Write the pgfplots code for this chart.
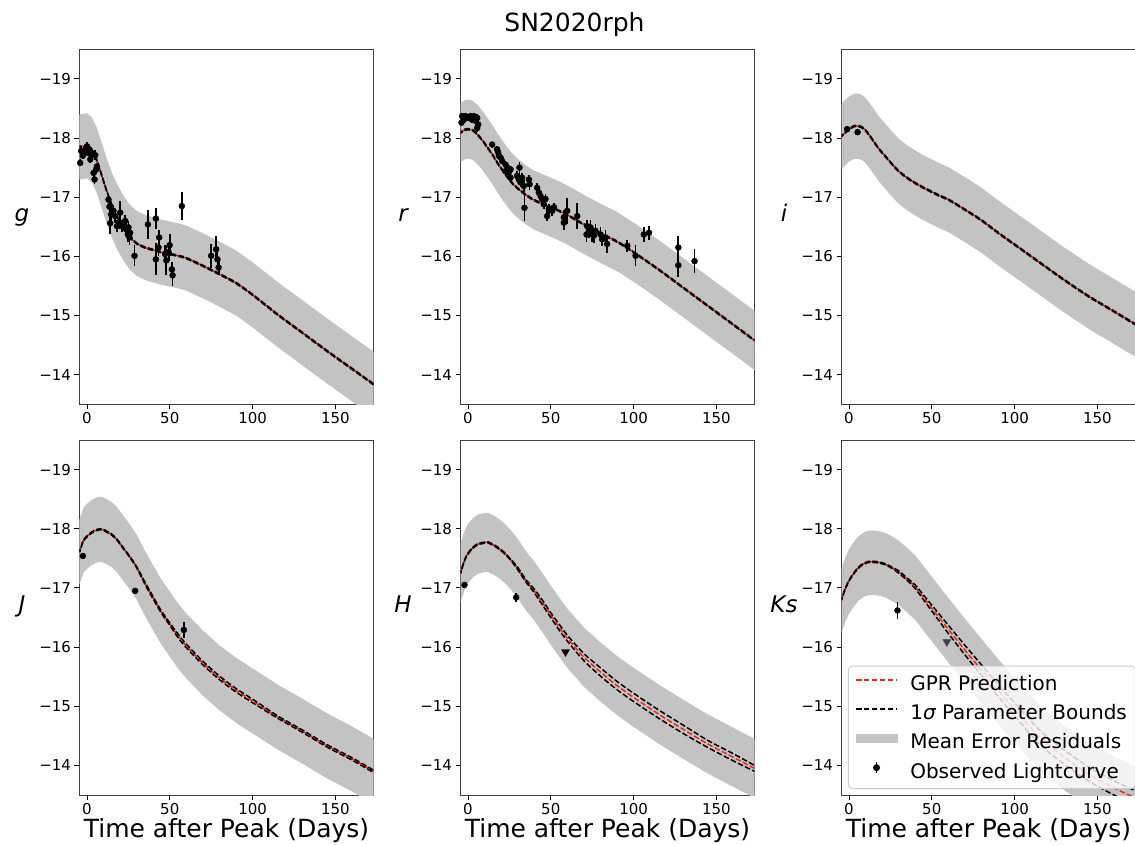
\documentclass[border=0pt]{standalone}
\usepackage{fontspec}
\setmainfont{DejaVu Sans}
\usepackage{pgfplots}
\pgfplotsset{compat=1.18}
\usepackage{pgfplotstable}

\definecolor{bandgray}{RGB}{195,195,195}
\definecolor{gprred}{RGB}{245,40,20}

% columns: x  m (GPR)  lo hi (1 sigma bounds)  t (band edge, bright side)  w (band width)
\pgfplotstableread{
x m lo hi t w
-4.5 -17.85 -17.86 -17.84 -18.40 1.10
-2 -17.86 -17.87 -17.85 -18.41 1.10
0 -17.87 -17.88 -17.86 -18.42 1.10
3 -17.80 -17.81 -17.79 -18.35 1.10
6 -17.62 -17.63 -17.61 -18.17 1.10
9 -17.36 -17.37 -17.35 -17.91 1.10
12 -17.10 -17.11 -17.09 -17.65 1.10
15 -16.87 -16.88 -16.86 -17.42 1.10
18 -16.68 -16.69 -16.67 -17.23 1.10
22 -16.48 -16.49 -16.47 -17.03 1.10
26 -16.32 -16.33 -16.31 -16.87 1.10
30 -16.22 -16.23 -16.21 -16.77 1.10
35 -16.15 -16.16 -16.14 -16.70 1.10
40 -16.11 -16.12 -16.10 -16.66 1.10
45 -16.07 -16.08 -16.06 -16.62 1.10
50 -16.04 -16.05 -16.03 -16.59 1.10
55 -16.01 -16.02 -16.00 -16.56 1.10
60 -15.97 -15.98 -15.96 -16.52 1.10
70 -15.84 -15.85 -15.83 -16.39 1.10
80 -15.70 -15.71 -15.69 -16.25 1.10
90 -15.55 -15.56 -15.54 -16.10 1.10
100 -15.35 -15.36 -15.34 -15.90 1.10
115 -15.02 -15.03 -15.01 -15.57 1.10
130 -14.71 -14.72 -14.70 -15.26 1.10
145 -14.40 -14.41 -14.39 -14.95 1.10
160 -14.10 -14.11 -14.09 -14.65 1.10
173 -13.84 -13.85 -13.83 -14.39 1.10
}\gtab
\pgfplotstableread{
x m lo hi t w
-4.5 -18.09 -18.10 -18.08 -18.59 1.00
-2 -18.14 -18.15 -18.13 -18.64 1.00
0 -18.15 -18.16 -18.14 -18.65 1.00
3 -18.13 -18.14 -18.12 -18.63 1.00
6 -18.05 -18.06 -18.04 -18.55 1.00
9 -17.95 -17.96 -17.94 -18.45 1.00
12 -17.83 -17.84 -17.82 -18.33 1.00
15 -17.71 -17.72 -17.70 -18.21 1.00
18 -17.57 -17.58 -17.56 -18.07 1.00
22 -17.41 -17.42 -17.40 -17.91 1.00
26 -17.26 -17.27 -17.25 -17.76 1.00
30 -17.15 -17.16 -17.14 -17.65 1.00
35 -17.04 -17.05 -17.03 -17.54 1.00
40 -16.95 -16.96 -16.94 -17.45 1.00
45 -16.89 -16.90 -16.88 -17.39 1.00
50 -16.83 -16.84 -16.82 -17.33 1.00
55 -16.77 -16.78 -16.76 -17.27 1.00
60 -16.70 -16.71 -16.69 -17.20 1.00
70 -16.54 -16.55 -16.53 -17.04 1.00
80 -16.39 -16.40 -16.38 -16.89 1.00
90 -16.25 -16.26 -16.24 -16.75 1.00
100 -16.07 -16.08 -16.06 -16.57 1.00
115 -15.78 -15.79 -15.77 -16.28 1.00
130 -15.47 -15.48 -15.46 -15.97 1.00
145 -15.16 -15.17 -15.15 -15.66 1.00
160 -14.85 -14.86 -14.84 -15.35 1.00
173 -14.58 -14.59 -14.57 -15.08 1.00
}\rtab
\pgfplotstableread{
x m lo hi t w
-4.5 -18.03 -18.04 -18.02 -18.58 1.10
-2 -18.10 -18.11 -18.09 -18.65 1.10
0 -18.15 -18.16 -18.14 -18.70 1.10
3 -18.20 -18.21 -18.19 -18.75 1.10
6 -18.20 -18.21 -18.19 -18.75 1.10
9 -18.16 -18.17 -18.15 -18.71 1.10
12 -18.06 -18.07 -18.05 -18.61 1.10
15 -17.94 -17.95 -17.93 -18.49 1.10
18 -17.82 -17.83 -17.81 -18.37 1.10
22 -17.69 -17.70 -17.68 -18.24 1.10
26 -17.56 -17.57 -17.55 -18.11 1.10
30 -17.44 -17.45 -17.43 -17.99 1.10
35 -17.33 -17.34 -17.32 -17.88 1.10
40 -17.24 -17.25 -17.23 -17.79 1.10
45 -17.16 -17.17 -17.15 -17.71 1.10
50 -17.09 -17.10 -17.08 -17.64 1.10
55 -17.02 -17.03 -17.01 -17.57 1.10
60 -16.96 -16.97 -16.95 -17.51 1.10
70 -16.79 -16.80 -16.78 -17.34 1.10
80 -16.61 -16.62 -16.60 -17.16 1.10
90 -16.40 -16.41 -16.39 -16.95 1.10
100 -16.20 -16.21 -16.19 -16.75 1.10
115 -15.90 -15.91 -15.89 -16.45 1.10
130 -15.60 -15.61 -15.59 -16.15 1.10
145 -15.32 -15.33 -15.31 -15.87 1.10
160 -15.07 -15.08 -15.06 -15.62 1.10
173 -14.85 -14.86 -14.84 -15.40 1.10
}\itab
\pgfplotstableread{
x m lo hi t w
-4.5 -17.61 -17.62 -17.60 -18.16 1.10
-2 -17.81 -17.82 -17.80 -18.36 1.10
0 -17.87 -17.88 -17.86 -18.42 1.10
3 -17.94 -17.95 -17.93 -18.49 1.10
6 -17.98 -17.99 -17.97 -18.53 1.10
9 -17.99 -18.00 -17.98 -18.54 1.10
12 -17.95 -17.96 -17.94 -18.50 1.10
15 -17.90 -17.91 -17.89 -18.45 1.10
18 -17.82 -17.83 -17.81 -18.37 1.10
22 -17.67 -17.68 -17.66 -18.22 1.10
26 -17.52 -17.53 -17.51 -18.07 1.10
30 -17.35 -17.36 -17.34 -17.90 1.10
35 -17.08 -17.10 -17.06 -17.63 1.10
40 -16.83 -16.85 -16.81 -17.38 1.10
45 -16.59 -16.61 -16.57 -17.14 1.10
50 -16.39 -16.41 -16.37 -16.94 1.10
55 -16.19 -16.22 -16.16 -16.74 1.10
60 -16.02 -16.05 -15.99 -16.57 1.10
70 -15.73 -15.76 -15.70 -16.28 1.10
80 -15.48 -15.51 -15.45 -16.03 1.10
90 -15.27 -15.30 -15.24 -15.82 1.10
100 -15.09 -15.12 -15.06 -15.64 1.10
115 -14.82 -14.84 -14.80 -15.37 1.10
130 -14.58 -14.60 -14.56 -15.13 1.10
145 -14.33 -14.35 -14.31 -14.88 1.10
160 -14.11 -14.13 -14.09 -14.66 1.10
173 -13.90 -13.92 -13.88 -14.45 1.10
}\jtab
\pgfplotstableread{
x m lo hi t w
-4.5 -17.25 -17.26 -17.24 -17.75 1.00
-2 -17.47 -17.48 -17.46 -17.97 1.00
0 -17.58 -17.59 -17.57 -18.08 1.00
3 -17.68 -17.69 -17.67 -18.18 1.00
6 -17.74 -17.75 -17.73 -18.24 1.00
9 -17.76 -17.77 -17.75 -18.26 1.00
12 -17.77 -17.78 -17.76 -18.27 1.00
15 -17.73 -17.74 -17.72 -18.23 1.00
18 -17.68 -17.69 -17.67 -18.18 1.00
22 -17.59 -17.60 -17.58 -18.09 1.00
26 -17.47 -17.48 -17.46 -17.97 1.00
30 -17.33 -17.35 -17.31 -17.83 1.00
35 -17.12 -17.14 -17.10 -17.62 1.00
40 -16.95 -16.98 -16.92 -17.45 1.00
45 -16.75 -16.79 -16.71 -17.25 1.00
50 -16.54 -16.58 -16.50 -17.04 1.00
55 -16.34 -16.39 -16.29 -16.84 1.00
60 -16.15 -16.20 -16.10 -16.65 1.00
70 -15.83 -15.89 -15.77 -16.33 1.00
80 -15.58 -15.65 -15.51 -16.08 1.00
90 -15.35 -15.42 -15.28 -15.85 1.00
100 -15.15 -15.22 -15.08 -15.65 1.00
115 -14.87 -14.94 -14.80 -15.37 1.00
130 -14.61 -14.68 -14.54 -15.11 1.00
145 -14.36 -14.42 -14.30 -14.86 1.00
160 -14.14 -14.20 -14.08 -14.64 1.00
173 -13.95 -14.00 -13.90 -14.45 1.00
}\htab
\pgfplotstableread{
x m lo hi t w
-4.5 -16.80 -16.81 -16.79 -17.33 1.09
-2 -17.00 -17.01 -16.99 -17.53 1.09
0 -17.12 -17.13 -17.11 -17.65 1.09
3 -17.25 -17.26 -17.24 -17.78 1.09
6 -17.35 -17.36 -17.34 -17.88 1.09
9 -17.41 -17.42 -17.40 -17.94 1.09
12 -17.44 -17.45 -17.43 -17.97 1.09
15 -17.44 -17.45 -17.43 -17.97 1.09
18 -17.43 -17.44 -17.42 -17.96 1.09
22 -17.40 -17.41 -17.39 -17.93 1.09
26 -17.34 -17.35 -17.33 -17.87 1.09
30 -17.27 -17.29 -17.25 -17.80 1.09
35 -17.15 -17.17 -17.13 -17.68 1.09
40 -17.02 -17.05 -16.99 -17.55 1.09
45 -16.84 -16.88 -16.80 -17.37 1.09
50 -16.66 -16.71 -16.61 -17.19 1.09
55 -16.48 -16.54 -16.42 -17.01 1.09
60 -16.30 -16.37 -16.23 -16.83 1.09
70 -15.95 -16.03 -15.87 -16.48 1.09
80 -15.61 -15.70 -15.52 -16.14 1.09
90 -15.27 -15.37 -15.17 -15.80 1.09
100 -14.95 -15.06 -14.84 -15.48 1.09
115 -14.48 -14.60 -14.36 -15.01 1.09
130 -14.14 -14.26 -14.02 -14.67 1.09
145 -13.85 -13.97 -13.73 -14.38 1.09
160 -13.62 -13.74 -13.50 -14.15 1.09
173 -13.45 -13.57 -13.33 -13.98 1.09
}\kstab

% observations: x y e
\pgfplotstableread{
x y e
-4.1 -17.58 0.06
-3.5 -17.78 0.06
-2.5 -17.70 0.05
-1.5 -17.78 0.06
-0.5 -17.83 0.07
0.0 -17.86 0.08
0.5 -17.75 0.06
1.4 -17.81 0.06
2.0 -17.64 0.06
2.5 -17.72 0.05
4.0 -17.41 0.07
4.6 -17.30 0.07
5.0 -17.71 0.08
5.6 -17.47 0.08
6.0 -17.52 0.06
13.0 -16.96 0.08
13.6 -16.84 0.10
14.0 -16.56 0.18
14.6 -16.71 0.15
16.0 -16.77 0.10
17.1 -16.68 0.12
18.1 -16.51 0.10
19.7 -16.57 0.10
20.1 -16.74 0.20
21.1 -16.51 0.10
23.1 -16.60 0.10
23.7 -16.46 0.12
24.7 -16.37 0.12
25.1 -16.49 0.10
25.7 -16.32 0.12
26.1 -16.40 0.10
28.7 -16.01 0.18
36.8 -16.54 0.24
41.6 -16.64 0.17
41.6 -15.95 0.27
43.2 -16.15 0.15
43.6 -16.32 0.12
47.2 -16.04 0.15
47.9 -15.93 0.25
49.3 -16.07 0.15
49.9 -16.19 0.18
51.3 -15.78 0.12
51.7 -15.68 0.18
57.3 -16.85 0.23
75.0 -16.01 0.20
78.0 -16.12 0.22
78.8 -15.95 0.12
79.5 -15.81 0.12
}\gobs
\pgfplotstableread{
x y e
-3.9 -18.26 0.05
-3.5 -18.37 0.05
-2.5 -18.31 0.05
-1.5 -18.37 0.05
0.1 -18.34 0.05
1.5 -18.37 0.05
2.5 -18.31 0.05
3.5 -18.37 0.05
4.6 -18.29 0.06
5.6 -18.34 0.06
5.6 -18.17 0.06
6.2 -18.23 0.05
14.6 -17.89 0.04
17.6 -17.81 0.05
18.2 -17.76 0.05
18.7 -17.70 0.05
19.7 -17.67 0.05
20.7 -17.61 0.05
22.7 -17.55 0.06
23.7 -17.50 0.06
22.7 -17.44 0.06
24.7 -17.42 0.06
25.7 -17.47 0.06
25.7 -17.33 0.06
29.7 -17.36 0.08
30.7 -17.30 0.08
31.1 -17.50 0.10
31.7 -17.25 0.08
32.7 -17.33 0.08
33.7 -17.19 0.10
34.1 -16.82 0.22
36.8 -17.30 0.08
37.2 -17.22 0.10
41.8 -17.16 0.08
42.8 -17.08 0.08
43.8 -17.02 0.08
44.8 -16.97 0.08
45.8 -16.88 0.08
46.8 -16.97 0.08
47.8 -16.68 0.08
48.8 -16.80 0.08
50.9 -16.77 0.08
51.9 -16.83 0.08
57.9 -16.66 0.12
57.9 -16.57 0.12
59.9 -16.77 0.22
66.0 -16.68 0.22
71.6 -16.37 0.12
72.0 -16.51 0.10
73.0 -16.43 0.12
74.0 -16.49 0.12
75.0 -16.37 0.12
76.0 -16.35 0.12
77.0 -16.43 0.12
80.0 -16.37 0.12
81.0 -16.29 0.12
83.0 -16.32 0.12
84.0 -16.21 0.15
96.2 -16.18 0.10
101.2 -16.01 0.18
106.2 -16.37 0.12
109.3 -16.40 0.12
127.0 -16.15 0.20
127.0 -15.85 0.20
136.8 -15.92 0.20
}\robs
\pgfplotstableread{
x y e
-1.1 -18.15 0.03
5.2 -18.10 0.03
}\iobs
\pgfplotstableread{
x y e
-2.5 -17.54 0.03
29.1 -16.95 0.03
58.5 -16.29 0.13
}\jobs
\pgfplotstableread{
x y e
-2.1 -17.05 0.03
29.1 -16.84 0.08
}\hobs
\pgfplotstableread{
x y e
29.3 -16.62 0.15
}\ksobs

\pgfplotsset{
  panel/.style={
    scale only axis, width=294pt, height=355pt,
    xmin=-4.5, xmax=173, ymin=-19.5, ymax=-13.5, y dir=reverse,
    xtick={0,50,100,150}, xticklabels={0,50,100,150},
    ytick={-19,-18,-17,-16,-15,-14},
    yticklabels={−19,−18,−17,−16,−15,−14},
    tick align=outside, tick pos=left,
    major tick length=5pt,
    tick style={black, line width=0.9pt},
    axis line style={line width=0.9pt, black!75},
    tick label style={font=\fontsize{15}{18}\selectfont},
    every axis y label/.style={at={(axis description cs:-0.1956,0.514)}, anchor=base, font=\fontsize{23}{27}\selectfont\itshape},
    every axis x label/.style={at={(axis description cs:0.5,-0.1206)}, anchor=base, font=\fontsize{25}{30}\selectfont},
  },
  gpr/.style={color=gprred, line width=1.5pt, dash pattern=on 5.5pt off 2.4pt, smooth},
  bnd/.style={black, line width=1.5pt, dash pattern=on 5.5pt off 2.4pt, dash phase=3pt, smooth},
  obs/.style={only marks, mark=*, mark size=3pt, black, mark options={fill=black, draw=black},
    error bars/y dir=both, error bars/y explicit, error bars/error mark=none,
    error bars/error bar style={line width=1.8pt, black}},
  lim/.style={only marks, mark=triangle*, mark size=4.6pt},
}

\newcommand{\curves}[1]{%
  \addplot[draw=none, stack plots=y, forget plot] table[x=x,y=t]{#1};
  \addplot[fill=bandgray, draw=none, stack plots=y, forget plot] table[x=x,y=w]{#1} \closedcycle;
  \addplot[gpr, forget plot] table[x=x,y=m]{#1};
  \addplot[bnd, forget plot] table[x=x,y=lo]{#1};
  \addplot[bnd, forget plot] table[x=x,y=hi]{#1};
}

\begin{document}
\begin{tikzpicture}

\node[anchor=base, font=\fontsize{25}{30}\selectfont] at (574.5pt,-31.7pt) {SN2020rph};

% ---- top row ----
\begin{axis}[panel, at={(79.5pt,-49.3pt)}, anchor=north west, ylabel={g}]
\curves{\gtab}
\addplot[obs, forget plot] table[x=x,y=y,y error=e]{\gobs};
\end{axis}

\begin{axis}[panel, at={(460.5pt,-49.3pt)}, anchor=north west, ylabel={r}]
\curves{\rtab}
\addplot[obs, forget plot] table[x=x,y=y,y error=e]{\robs};
\end{axis}

\begin{axis}[panel, at={(841.5pt,-49.3pt)}, anchor=north west, ylabel={i}]
\curves{\itab}
\addplot[obs, forget plot] table[x=x,y=y,y error=e]{\iobs};
\end{axis}

% ---- bottom row ----
\begin{axis}[panel, at={(79.5pt,-440pt)}, anchor=north west, ylabel={J}, xlabel={Time after Peak (Days)}]
\curves{\jtab}
\addplot[obs, forget plot] table[x=x,y=y,y error=e]{\jobs};
\end{axis}

\begin{axis}[panel, at={(460.5pt,-440pt)}, anchor=north west, ylabel={H}, xlabel={Time after Peak (Days)}]
\curves{\htab}
\addplot[obs, forget plot] table[x=x,y=y,y error=e]{\hobs};
\addplot[lim, black, mark options={fill=black, draw=black, rotate=180}, forget plot] coordinates {(58.9,-15.92)};
\end{axis}

\begin{axis}[panel, at={(841.5pt,-440pt)}, anchor=north west, ylabel={Ks}, xlabel={Time after Peak (Days)},
  legend cell align=left,
  legend style={at={(axis description cs:0.0214,0.0169)}, anchor=south west,
    draw=black!20, line width=1pt, rounded corners=4pt, fill=white, fill opacity=0.8,
    text opacity=1, draw opacity=1, font=\fontsize{20}{24}\selectfont,
    row sep=9.5pt, column sep=11pt, inner xsep=7pt, inner ysep=7.5pt,
    nodes={inner sep=1.5pt}}]
\addlegendimage{legend image code/.code={\draw[sharp corners, gprred, line width=1.5pt, dash pattern=on 5.5pt off 2.4pt] (0pt,0.35em) -- (41pt,0.35em);}}
\addlegendentry{GPR Prediction}
\addlegendimage{legend image code/.code={\draw[sharp corners, black, line width=1.5pt, dash pattern=on 5.5pt off 2.4pt] (0pt,0.35em) -- (41pt,0.35em);}}
\addlegendentry{1{\itshape σ} Parameter Bounds}
\addlegendimage{legend image code/.code={\fill[sharp corners, bandgray, fill opacity=1] (0pt,-0.03em) rectangle (41pt,0.73em);}}
\addlegendentry{Mean Error Residuals}
\addlegendimage{legend image code/.code={\draw[sharp corners, black, line width=1.8pt] (20.5pt,-0.2em) -- (20.5pt,0.9em); \fill[black, fill opacity=1] (20.5pt,0.35em) circle (3pt);}}
\addlegendentry{Observed Lightcurve}
\curves{\kstab}
\addplot[obs, forget plot] table[x=x,y=y,y error=e]{\ksobs};
\addplot[lim, black!75, mark options={fill=black!75, draw=black!75, rotate=180}, forget plot] coordinates {(59.1,-16.09)};
\end{axis}
\pgfresetboundingbox
\useasboundingbox (0,0) rectangle (1135pt,-845pt);
\end{tikzpicture}
\end{document}
